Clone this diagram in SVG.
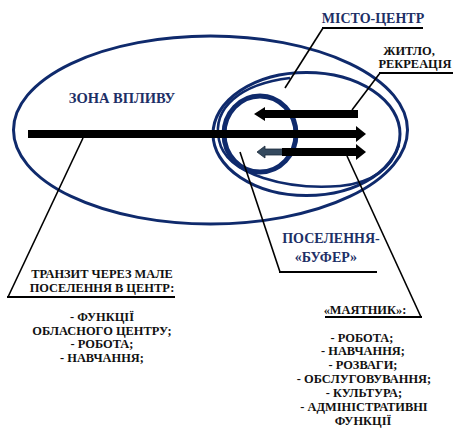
<svg xmlns="http://www.w3.org/2000/svg" width="455" height="429" viewBox="0 0 455 429">
<defs>
<style>
.ring{fill:none;stroke:#0f2a6c}
.lead{fill:none;stroke:#000;stroke-width:1.6}
.ul{fill:none;stroke:#000;stroke-width:2.2}
.arr{fill:#000}
.navy{font-family:'Liberation Serif','DejaVu Serif',serif;font-weight:bold;fill:#1d2f66;text-anchor:middle}
.blk{font-family:'Liberation Serif','DejaVu Serif',serif;font-weight:bold;fill:#111;text-anchor:middle;font-size:12.4px}
</style>
</defs>
<rect width="455" height="429" fill="#fff"/>
<g id="zone">
<ellipse class="ring" cx="210.5" cy="130" rx="197" ry="94" stroke-width="3"/>
<text class="navy" x="122" y="103" font-size="14.5">ЗОНА ВПЛИВУ</text>
</g>
<g id="city">
<ellipse class="ring" cx="306.5" cy="134" rx="93.5" ry="61.5" stroke-width="3"/>
<path class="ring" stroke-width="2.6" d="M290,78 C240,84 212,108 219,140 C226,176 290,190 340,186 C372,183 392,168 399,145"/>
<text class="navy" x="373" y="23" font-size="14">МІСТО-ЦЕНТР</text>
</g>
<g id="buffer">
<ellipse class="ring" cx="260" cy="134" rx="36" ry="38" stroke-width="5"/>
<text class="navy" x="331" y="243" font-size="14">ПОСЕЛЕННЯ-</text>
<text class="navy" x="326" y="262" font-size="14">«БУФЕР»</text>
</g>
<g id="housing">
<text class="blk" x="409" y="55">ЖИТЛО,</text>
<text class="blk" x="415" y="68">РЕКРЕАЦІЯ</text>
</g>
<g id="transit">
<text class="blk" x="102" y="278">ТРАНЗИТ ЧЕРЕЗ МАЛЕ</text>
<text class="blk" x="102" y="292">ПОСЕЛЕННЯ В ЦЕНТР:</text>
<text class="blk" x="102" y="321">- ФУНКЦІЇ</text>
<text class="blk" x="102" y="335">ОБЛАСНОГО ЦЕНТРУ;</text>
<text class="blk" x="102" y="348">- РОБОТА;</text>
<text class="blk" x="102" y="362">- НАВЧАННЯ;</text>
</g>
<g id="pendulum">
<text class="blk" x="365" y="314">«МАЯТНИК»:</text>
<text class="blk" x="362" y="342">- РОБОТА;</text>
<text class="blk" x="363" y="355">- НАВЧАННЯ;</text>
<text class="blk" x="363" y="369">- РОЗВАГИ;</text>
<text class="blk" x="364" y="383">- ОБСЛУГОВУВАННЯ;</text>
<text class="blk" x="364" y="397">- КУЛЬТУРА;</text>
<text class="blk" x="364" y="411">- АДМІНІСТРАТИВНІ</text>
<text class="blk" x="363" y="425">ФУНКЦІЇ</text>
</g>
<g id="connectors">
<polygon class="arr" points="358,110 265,110 265,107 254,114 265,121 265,118 358,118"/>
<polygon class="arr" points="28,130 356,130 356,126 366,134 356,142 356,138 28,138"/>
<polygon points="283,149 265,149 265,146 257,152 265,158 265,155 283,155" fill="#34495e" stroke="#1b2a3a" stroke-width="0.8"/>
<polygon class="arr" points="282,148 356,148 356,144 366,152 356,160 356,156 282,156"/>
<polyline class="lead" points="285,88 323,28"/>
<line class="ul" x1="322" y1="28" x2="423" y2="28"/>
<polyline class="lead" points="352,110 380,73"/>
<line class="ul" x1="379" y1="73" x2="453" y2="73"/>
<polyline class="lead" points="83,138 8,297"/>
<line class="ul" x1="7" y1="297" x2="175" y2="297"/>
<polyline class="lead" points="240,152 280,272"/>
<line class="ul" x1="279" y1="272" x2="377" y2="272"/>
<polyline class="lead" points="347,156 421,317"/>
<line class="ul" x1="325" y1="317" x2="422" y2="317"/>
</g>
</svg>
